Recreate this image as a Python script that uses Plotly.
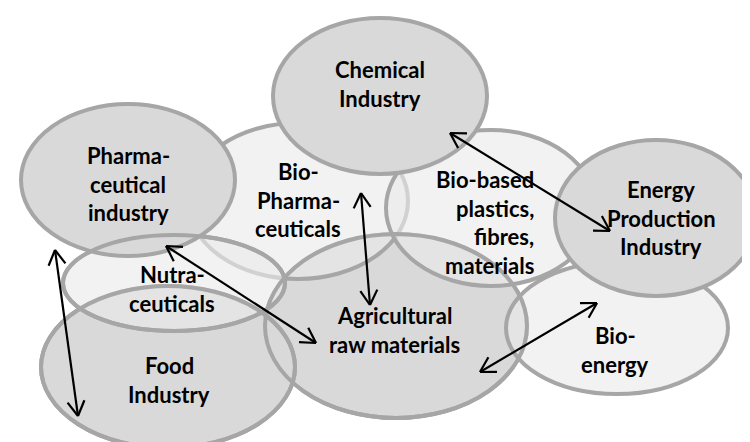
import numpy as np
import plotly.graph_objects as go

# ---- diagram content ----
node_names = ["Agricultural raw materials", "Food Industry", "Bio-Pharmaceuticals",
              "Bio-based plastics, fibres, materials", "Bio-energy", "Nutraceuticals",
              "Pharmaceutical industry", "Chemical Industry", "Energy Production Industry"]
node_lines = [["Agricultural", "raw materials"], ["Food", "Industry"],
              ["Bio-", "Pharma-", "ceuticals"], ["Bio-based", "plastics,", "fibres,", "materials"],
              ["Bio-", "energy"], ["Nutra-", "ceuticals"],
              ["Pharma-", "ceutical", "industry"], ["Chemical", "Industry"],
              ["Energy", "Production", "Industry"]]
node_tone = ["dark", "dark", "light", "light", "light", "light", "dark", "dark", "dark"]

# ---- layout geometry (pixel units of the 750x442 canvas) ----
ell_cx = [388, 160, 290, 483, 609, 166, 120, 372, 648]
ell_cy = [318, 359, 193, 200, 320, 275, 172, 88, 210]
ell_rx = [131, 127, 110, 105, 111, 111, 107, 107, 101]
ell_ry = [92, 81, 78, 78, 66, 48, 76, 78, 78]
txt_x = [386, 161, 290, 528, 607, 164, 120, 372, 653]
txt_y = [322, 372, 192, 214.5, 342, 281, 176, 76, 210]
txt_align = ["center", "center", "center", "right", "center", "center", "center", "center", "center"]
outline_redraw = [0, 1, 5]   # outlines visible through overlapping fills

# ---- links (double-headed arrows) ----
link_x0 = [47, 158, 353, 442, 472]
link_y0 = [242, 238, 185, 125, 364]
link_x1 = [70, 308, 362, 602, 589]
link_y1 = [408, 335, 297, 223, 295]

W, H = 750, 442
LINE = "#a6a6a6"
FILL = {"dark": "#d9d9d9", "light": "rgba(234,234,234,0.63)"}
LINE_GAP = 28.5

shapes = []
def ell(i, fill=True):
    shapes.append(dict(type="circle", xref="x", yref="y", layer="below",
                       x0=ell_cx[i] - ell_rx[i], x1=ell_cx[i] + ell_rx[i],
                       y0=ell_cy[i] - ell_ry[i], y1=ell_cy[i] + ell_ry[i],
                       fillcolor=FILL[node_tone[i]] if fill else "rgba(0,0,0,0)",
                       line=dict(color=LINE, width=4)))

for i in range(len(node_names)):
    ell(i)
for i in outline_redraw:
    ell(i, fill=False)

fig = go.Figure()

# arrows
ax, ay = [], []
head_len, head_ang = 17, np.deg2rad(30)
for x0, y0, x1, y1 in zip(link_x0, link_y0, link_x1, link_y1):
    ax += [x0, x1, None]
    ay += [y0, y1, None]
    for (px, py, qx, qy) in [(x0, y0, x1, y1), (x1, y1, x0, y0)]:
        ang = np.arctan2(qy - py, qx - px)  # direction from tip into the line
        for s in (-1, 1):
            a = ang + s * head_ang
            ax += [px + head_len * np.cos(a), px, None]
            ay += [py + head_len * np.sin(a), py, None]
        ax += [None]; ay += [None]

fig.add_trace(go.Scatter(x=ax, y=ay, mode="lines", line=dict(color="black", width=2.2),
                         hoverinfo="skip", showlegend=False))

annotations = []
for i, lines in enumerate(node_lines):
    n = len(lines)
    for k, t in enumerate(lines):
        yk = txt_y[i] + (k - (n - 1) / 2) * LINE_GAP
        annotations.append(dict(x=txt_x[i], y=yk, xref="x", yref="y", text=t, showarrow=False,
                                xanchor="right" if txt_align[i] == "right" else "center",
                                yanchor="middle",
                                font=dict(family="Lato", size=22, color="black", weight="bold")))

fig.update_layout(width=W, height=H, margin=dict(l=0, r=0, t=0, b=0),
                  paper_bgcolor="white", plot_bgcolor="white",
                  shapes=shapes, annotations=annotations, showlegend=False,
                  xaxis=dict(range=[0, W], visible=False, fixedrange=True),
                  yaxis=dict(range=[H, 0], visible=False, fixedrange=True))
fig.write_html("out.html")
